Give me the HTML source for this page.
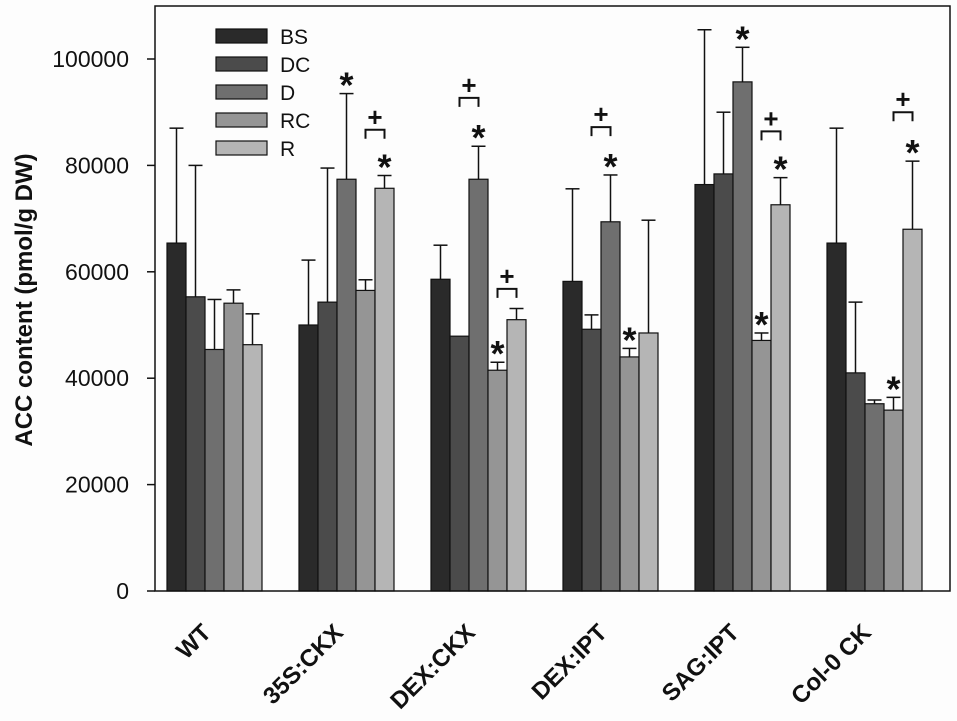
<!DOCTYPE html>
<html><head><meta charset="utf-8"><style>
html,body{margin:0;padding:0;background:#fdfdfd;}
svg{display:block;font-family:"Liberation Sans",Arial,sans-serif;}
</style></head><body>
<svg id="chart" width="957" height="721" viewBox="0 0 957 721" xmlns="http://www.w3.org/2000/svg">
<rect x="0" y="0" width="957" height="721" fill="#fdfdfd"/>
<g id="bars"></g>
<g id="axes"></g>
<text transform="translate(32,300) rotate(-90)" text-anchor="middle" font-size="24" font-weight="bold" fill="#111">ACC content (pmol/g DW)</text>
<g id="legend"></g>
</svg>
<script>
const categories = ["WT","35S:CKX","DEX:CKX","DEX:IPT","SAG:IPT","Col-0 CK"];
const seriesNames = ["BS","DC","D","RC","R"];
const BS = [65400,50000,58600,58200,76400,65400];
const DC = [55300,54300,47900,49200,78400,41000];
const D  = [45400,77400,77400,69400,95700,35200];
const RC = [54100,56500,41500,44000,47100,34000];
const R  = [46300,75700,51000,48500,72600,68000];
const BS_err = [87000,62200,65000,75600,105500,87000];
const DC_err = [80000,79500,47900,51900,90000,54300];
const D_err  = [54800,93500,83600,78200,102200,35900];
const RC_err = [56600,58500,43000,45600,48500,36400];
const R_err  = [52100,78100,53100,69700,77700,80800];
// significance stars: [categoryIndex, seriesIndex]
const stars = [[1,2],[1,4],[2,2],[2,3],[3,2],[3,3],[4,2],[4,3],[4,4],[5,3],[5,4]];
// plus brackets: [categoryIndex, seriesFrom, seriesTo, value]
const brackets = [[1,3,4,86700],[2,1,2,92700],[2,3,4,56800],[3,1,2,87200],[4,3,4,86400],[5,3,4,90000]];
const yTicks = [0,20000,40000,60000,80000,100000];

const colors = ["#2a2a2a","#4b4b4b","#6f6f6f","#959595","#b5b5b5"];
const values = [BS,DC,D,RC,R];
const errs = [BS_err,DC_err,D_err,RC_err,R_err];
const NS="http://www.w3.org/2000/svg";
const L=155,T=6,RGT=950,B=591;
function y(v){return B-(v/100000)*(B-59);}
function groupX(i){return 167+i*132;}
const bw=19;
function barX(i,s){return groupX(i)+s*bw;}
function mk(tag,attrs,parent){const e=document.createElementNS(NS,tag);for(const k in attrs)e.setAttribute(k,attrs[k]);parent.appendChild(e);return e;}
const gb=document.getElementById('bars'), ga=document.getElementById('axes'), gl=document.getElementById('legend');
for(let i=0;i<categories.length;i++){
  for(let s=0;s<5;s++){
    const x=barX(i,s), v=values[s][i], e=errs[s][i], cx=x+bw/2;
    if(e>v){
      const l=mk('line',{x1:cx,x2:cx,y1:y(v),y2:y(e),stroke:'#111','stroke-width':1.5},gb);
      
      
      const c=mk('line',{x1:cx-7,x2:cx+7,y1:y(e),y2:y(e),stroke:'#111','stroke-width':1.5},gb);
      
      
    }
    const r=mk('rect',{x:x,y:y(v),width:bw,height:B-y(v),fill:colors[s],stroke:'#111','stroke-width':1.2},gb);
    
    
  }
}
stars.forEach(([i,s])=>{
  const cx=barX(i,s)+bw/2, top=Math.max(values[s][i],errs[s][i]);
  const t=mk('text',{x:cx,y:y(top)+4,'text-anchor':'middle','font-size':36,'font-weight':'bold',fill:'#111'},gb);
  t.textContent='*';
  
  
});
brackets.forEach(([i,a,b,v])=>{
  const x1=barX(i,a)+bw/2, x2=barX(i,b)+bw/2, yy=y(v);
  const p=mk('path',{d:`M${x1} ${yy+9} V${yy} H${x2} V${yy+9}`,fill:'none',stroke:'#111','stroke-width':2},gb);
  
  
  const t=mk('text',{x:(x1+x2)/2,y:yy-4,'text-anchor':'middle','font-size':26,'font-weight':'bold',fill:'#111'},gb);
  t.textContent='+';
  
  
});
const fr=mk('rect',{x:L,y:T,width:RGT-L,height:B-T,fill:'none',stroke:'#111','stroke-width':1.5},ga);


yTicks.forEach(v=>{
  const l=mk('line',{x1:L-8,x2:L,y1:y(v),y2:y(v),stroke:'#111','stroke-width':1.5},ga);
  
  
  const t=mk('text',{x:129,y:y(v)+8,'text-anchor':'end','font-size':23,fill:'#111'},ga);
  t.textContent=v;
  
  
});
categories.forEach((c,i)=>{
  const cx=groupX(i)+bw*2.5;
  const t=mk('text',{x:0,y:0,'text-anchor':'end','font-size':24,'font-weight':'bold',fill:'#111',transform:`translate(${cx-2},${634}) rotate(-45)`},ga);
  t.textContent=c;
  
  
});
seriesNames.forEach((n,s)=>{
  const yy=36+s*28;
  const r=mk('rect',{x:216,y:yy-7,width:51,height:14,fill:colors[s],stroke:'#111','stroke-width':1.2},gl);
  
  
  const t=mk('text',{x:280,y:yy+8,'font-size':21,fill:'#111'},gl);
  t.textContent=n;
  
  
});
</script>
</body></html>
